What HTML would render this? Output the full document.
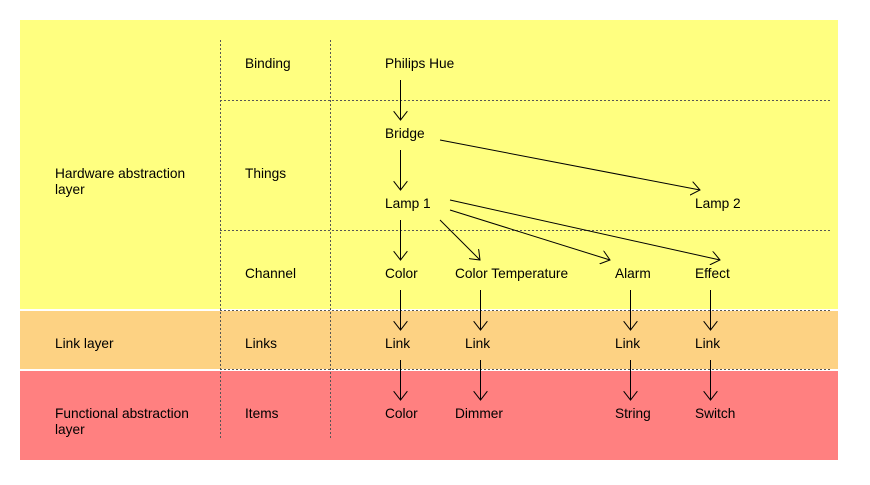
<!DOCTYPE html><html><head><style>body{margin:0;background:#fff}svg text{font-family:"Liberation Sans",Arial,sans-serif;font-size:13.7px;fill:#000}</style></head><body>
<svg width="870" height="480" xmlns="http://www.w3.org/2000/svg">
<defs><marker id="a" markerWidth="10" markerHeight="14" refX="9" refY="7" orient="auto" markerUnits="userSpaceOnUse"><path d="M0,0 L9,7 L0,14" fill="none" stroke="#000" stroke-width="1"/></marker></defs>
<rect x="20" y="20" width="818" height="289" fill="#FFFF80"/>
<rect x="20" y="311" width="818" height="58" fill="#FDD283"/>
<rect x="20" y="371" width="818" height="89" fill="#FF8080"/>
<g stroke="#555" stroke-dasharray="2,2" stroke-width="1">
<line x1="220.5" y1="40" x2="220.5" y2="440"/><line x1="330.5" y1="40" x2="330.5" y2="440"/>
<line x1="220" y1="100.5" x2="830" y2="100.5"/><line x1="220" y1="230.5" x2="830" y2="230.5"/>
<line x1="220" y1="310.5" x2="830" y2="310.5"/><line x1="220" y1="369.5" x2="830" y2="369.5"/>
</g>
<text x="55" y="178">Hardware abstraction</text><text x="55" y="194">layer</text>
<text x="55" y="348">Link layer</text>
<text x="55" y="418">Functional abstraction</text><text x="55" y="434">layer</text>
<text x="245" y="68">Binding</text><text x="245" y="178">Things</text><text x="245" y="278">Channel</text><text x="245" y="348">Links</text><text x="245" y="418">Items</text>
<text x="385" y="68">Philips Hue</text><text x="385" y="138">Bridge</text><text x="385" y="208">Lamp 1</text><text x="695" y="208">Lamp 2</text>
<text x="385" y="278">Color</text><text x="455" y="278">Color Temperature</text><text x="615" y="278">Alarm</text><text x="695" y="278">Effect</text>
<text x="385" y="348">Link</text><text x="465" y="348">Link</text><text x="615" y="348">Link</text><text x="695" y="348">Link</text>
<text x="385" y="418">Color</text><text x="455" y="418">Dimmer</text><text x="615" y="418">String</text><text x="695" y="418">Switch</text>
<g stroke="#000" stroke-width="1" marker-end="url(#a)">
<line x1="400.5" y1="80" x2="400.5" y2="120"/>
<line x1="400.5" y1="150" x2="400.5" y2="190"/>
<line x1="440" y1="140" x2="700" y2="190"/>
<line x1="400.5" y1="220" x2="400.5" y2="260"/>
<line x1="440" y1="220" x2="480" y2="260"/>
<line x1="450" y1="210" x2="610" y2="260"/>
<line x1="450" y1="200" x2="720" y2="260"/>
<line x1="400.5" y1="290" x2="400.5" y2="330"/><line x1="480.5" y1="290" x2="480.5" y2="330"/><line x1="630.5" y1="290" x2="630.5" y2="330"/><line x1="710.5" y1="290" x2="710.5" y2="330"/>
<line x1="400.5" y1="360" x2="400.5" y2="400"/><line x1="480.5" y1="360" x2="480.5" y2="400"/><line x1="630.5" y1="360" x2="630.5" y2="400"/><line x1="710.5" y1="360" x2="710.5" y2="400"/>
</g>
</svg></body></html>
